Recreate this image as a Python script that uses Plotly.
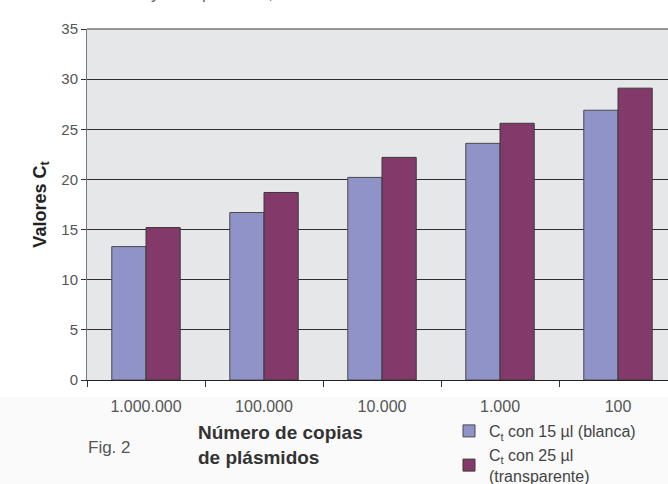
import plotly.graph_objects as go

# Plasmid copy number per reaction (categories) and measured Ct values
copias = ["1.000.000", "100.000", "10.000", "1.000", "100"]
ct_15ul_blanca = [13.3, 16.7, 20.2, 23.6, 26.9]
ct_25ul_transparente = [15.2, 18.7, 22.2, 25.6, 29.1]

serie_nombres = [
    "C<sub>t</sub> con 15 µl (blanca)",
    "C<sub>t</sub> con 25 µl<br>(transparente)",
]

W, H = 668, 484
L, R, T, B = 87, 0, 29, 104
plot_w = W - L - R
plot_h = H - T - B

fig = go.Figure()
fig.add_trace(go.Bar(
    x=copias, y=ct_15ul_blanca, name=serie_nombres[0],
    marker=dict(color="#8f93c8", line=dict(color="#4a4a4a", width=1)),
))
fig.add_trace(go.Bar(
    x=copias, y=ct_25ul_transparente, name=serie_nombres[1],
    marker=dict(color="#833a6a", line=dict(color="#3a3a3a", width=1)),
))

def px_x(p):
    return (p - L) / plot_w

def px_y(p):
    return (H - B - p) / plot_h

fig.update_layout(
    width=W, height=H,
    margin=dict(l=L, r=R, t=T, b=B, autoexpand=False),
    paper_bgcolor="white",
    plot_bgcolor="#e6e7e8",
    barmode="group",
    bargap=0.42,
    bargroupgap=0,
    font=dict(family="Liberation Sans, Arial, sans-serif", color="#555"),
    showlegend=True,
    legend=dict(
        x=px_x(449), y=px_y(414), xanchor="left", yanchor="top",
        bgcolor="rgba(0,0,0,0)",
        font=dict(size=16, color="#444"),
        tracegroupgap=0, itemwidth=30,
    ),
    xaxis=dict(
        type="category",
        range=[-0.5, -0.5 + plot_w / 118.0],
        tickson="boundaries",
        ticks="outside", ticklen=6, tickcolor="#333",
        showline=True, linecolor="#222", linewidth=1,
        showgrid=False,
        tickfont=dict(size=16, color="#555"),
        ticklabelstandoff=12,
        automargin=False,
        fixedrange=True,
    ),
    yaxis=dict(
        range=[0, 35], dtick=5,
        ticks="outside", ticklen=5, tickcolor="#333",
        showline=True, linecolor="#777", linewidth=1,
        showgrid=True, gridcolor="#2e2e2e", gridwidth=1,
        zeroline=False,
        automargin=False,
        tickfont=dict(size=15, color="#555"),
        title=dict(text="<b>Valores C<sub>t</sub></b>",
                   font=dict(size=18, color="#222"), standoff=10),
    ),
)

# Frame line along the top of the plotting area
fig.add_shape(type="line", xref="paper", yref="paper",
              x0=0, x1=1, y0=1, y1=1, line=dict(color="#777", width=1.5))
# Light band behind the caption area
fig.add_shape(type="rect", xref="paper", yref="paper", layer="below",
              x0=px_x(0), x1=px_x(W), y0=px_y(H), y1=px_y(397),
              fillcolor="#fafafa", line=dict(width=0))

# Caption texts
fig.add_annotation(xref="paper", yref="paper", x=px_x(86), y=px_y(447),
                   xanchor="left", yanchor="middle", showarrow=False,
                   text="Fig. 2", font=dict(size=17, color="#555"))
fig.add_annotation(xref="paper", yref="paper", x=px_x(196), y=px_y(445),
                   xanchor="left", yanchor="middle", showarrow=False, align="left",
                   text="<b>Número de copias<br>de plásmidos</b>",
                   font=dict(size=19, color="#333"))
# Tail of the preceding caption line at the very top edge
fig.add_annotation(xref="paper", yref="paper", x=px_x(385), y=px_y(5),
                   xanchor="center", yanchor="bottom", showarrow=False,
                   text="y transparentes, en caso de volúmenes de reacción diferentes",
                   font=dict(size=17, color="#666"))

fig.write_html("out.html")
